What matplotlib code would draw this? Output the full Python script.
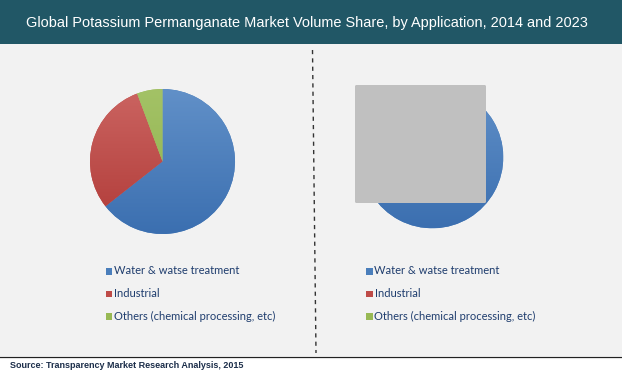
import numpy as np
import matplotlib
matplotlib.use("Agg")
import matplotlib.pyplot as plt
from matplotlib.colors import LinearSegmentedColormap
from matplotlib.patches import Rectangle, FancyBboxPatch

# ---- data ----
title = "Global Potassium Permanganate Market Volume Share, by Application, 2014 and 2023"
source = "Source: Transparency Market Research Analysis, 2015"
categories = ["Water & watse treatment", "Industrial", "Others (chemical processing, etc)"]
share_2014 = [64.4, 29.9, 5.7]
share_2023 = [66.0, 28.0, 6.0]
colors_top = ["#6190c8", "#cb6461", "#a3c266"]
colors_bot = ["#3b6fb0", "#b03a37", "#8fb24c"]
colors_leg = ["#4a7ebb", "#be4b48", "#98b954"]

W, H = 622, 371
fig = plt.figure(figsize=(W / 100, H / 100), dpi=100)
fig.patch.set_facecolor("white")

# background axes in pixel coords (y down)
bg = fig.add_axes([0, 0, 1, 1], zorder=0)
bg.set_xlim(0, W)
bg.set_ylim(H, 0)
bg.axis("off")
bg.add_patch(Rectangle((0, 44), W, 312, facecolor="#f2f2f2", edgecolor="none"))
bg.add_patch(Rectangle((0, 0), W, 44, facecolor="#215766", edgecolor="none"))
bg.plot([0, W], [356.5, 356.5], color="#222222", lw=0.9)
bg.text(26, 22.5, title, color="white", fontsize=10.45, family="Liberation Sans",
        va="center", ha="left")
bg.text(10, 366, source, color="#1c2e4a", fontsize=6.45, fontweight="bold",
        family=["Liberation Sans Narrow", "Liberation Sans"], va="center", ha="left")
bg.plot([312.5, 316], [50, 353], color="#333333", lw=1.0, ls=(0, (3, 3)))


def legend(x0, y0):
    for i, (lab, c) in enumerate(zip(categories, colors_leg)):
        y = y0 + i * 22.5
        bg.add_patch(Rectangle((x0, y - 3), 6.5, 6.5, facecolor=c, edgecolor="none"))
        bg.text(x0 + 8.5, y, lab, color="#1f3d6e", fontsize=8.05, family="Lato",
                va="center", ha="left")


legend(105.5, 271)
legend(366, 271)


def draw_pie(cx, cy, r, vals):
    ax = fig.add_axes([(cx - r) / W, 1 - (cy + r) / H, 2 * r / W, 2 * r / H], zorder=1)
    wedges, _ = ax.pie(vals, startangle=90, counterclock=False, radius=1,
                       colors=colors_leg, wedgeprops=dict(edgecolor="none"))
    grad = np.linspace(1, 0, 256).reshape(-1, 1)
    for w, ct, cb in zip(wedges, colors_top, colors_bot):
        cmap = LinearSegmentedColormap.from_list("g", [cb, ct])
        im = ax.imshow(grad, extent=(-1, 1, -1, 1), cmap=cmap, aspect="auto",
                       origin="upper", zorder=2)
        im.set_clip_path(w)
    ax.set_xlim(-1, 1)
    ax.set_ylim(-1, 1)
    ax.axis("off")
    return ax


draw_pie(162.5, 161.5, 72.5, share_2014)
draw_pie(432.3, 157.3, 71, share_2023)

ov = fig.add_axes([0, 0, 1, 1], zorder=3)
ov.set_xlim(0, W)
ov.set_ylim(H, 0)
ov.axis("off")
ov.patch.set_alpha(0)
ov.add_patch(FancyBboxPatch((355, 85), 131, 118, boxstyle="round,pad=0,rounding_size=1.5",
                            facecolor="#c0c0c0", edgecolor="none"))

fig.savefig("out.png", dpi=100)
